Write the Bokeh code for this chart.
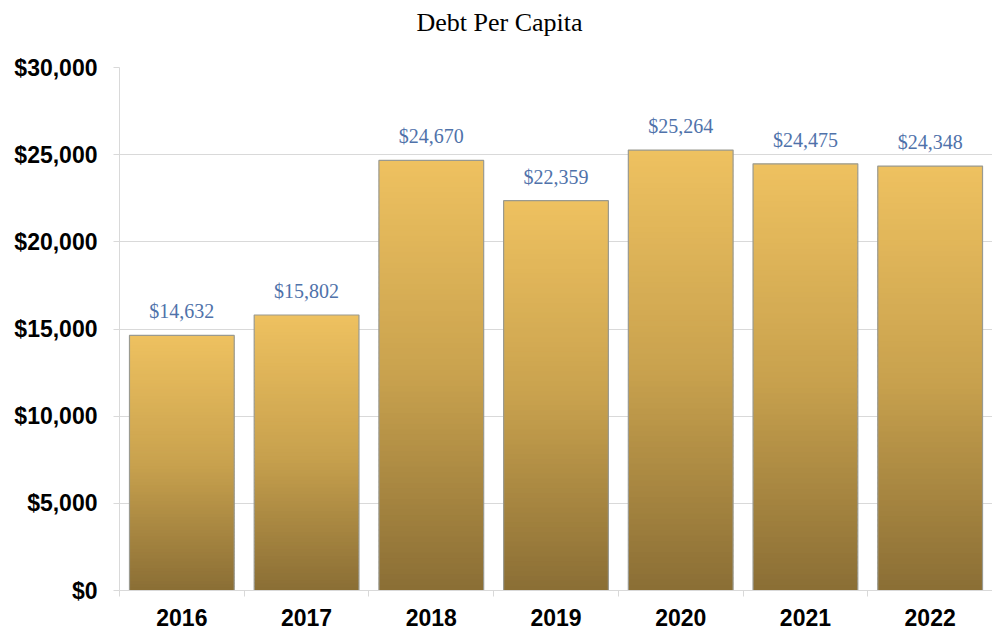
from bokeh.plotting import figure
from bokeh.models import FixedTicker, NumeralTickFormatter, Range1d, ColumnDataSource, Title
from bokeh.embed import file_html
from bokeh.resources import INLINE

years = ["2016", "2017", "2018", "2019", "2020", "2021", "2022"]
debt = [14632, 15802, 24670, 22359, 25264, 24475, 24348]
labels = ["$14,632", "$15,802", "$24,670", "$22,359", "$25,264", "$24,475", "$24,348"]
title_text = "Debt Per Capita"

# gradient stops (fraction of bar height -> rgb)
stops = [(0.0, (138, 110, 53)), (0.5, (201, 162, 78)), (1.0, (238, 193, 96))]

def grad(t):
    for (t0, c0), (t1, c1) in zip(stops[:-1], stops[1:]):
        if t0 <= t <= t1:
            f = (t - t0) / (t1 - t0)
            return "#%02x%02x%02x" % tuple(int(round(a + (b - a) * f)) for a, b in zip(c0, c1))
    return "#%02x%02x%02x" % stops[-1][1]

N = 80
xs, bots, tops, cols = [], [], [], []
for i, v in enumerate(debt):
    for j in range(N):
        xs.append(i)
        bots.append(v * j / N)
        tops.append(min(v, v * (j + 1) / N + v * 0.006))
        cols.append(grad((j + 0.5) / N))

p = figure(width=992, height=630, output_backend="svg", toolbar_location=None,
           x_range=Range1d(-0.5, len(years) - 0.5), y_range=Range1d(0, 30000),
           min_border_left=119, min_border_right=0, min_border_top=67, min_border_bottom=40)
p.outline_line_color = None
p.background_fill_color = "white"

p.title = Title(text=title_text, align="left", vertical_align="top", text_font="Liberation Serif",
                text_font_size="26px", text_font_style="normal", text_color="#000000",
                offset=297, standoff=14)
# spacer between title and plot area
p.add_layout(Title(text=" ", text_font_size="1px", standoff=19), "above")

strips = ColumnDataSource(dict(x=xs, bottom=bots, top=tops, color=cols))
p.vbar(x="x", bottom="bottom", top="top", width=0.84, fill_color="color", line_color=None, source=strips)

src = ColumnDataSource(dict(x=list(range(len(years))), top=debt, label=labels))
p.vbar(x="x", bottom=0, top="top", width=0.84, fill_color=None, line_color="#9a9a90", line_width=1.2, source=src)
p.text(x="x", y="top", text="label", source=src, text_align="center", text_baseline="bottom",
       y_offset=-13, text_font_size="20px", text_color="#4f72aa", text_font={"value": "Liberation Serif"})

p.xgrid.grid_line_color = None
p.ygrid.grid_line_color = "#d9d9d9"
p.ygrid.grid_line_width = 1

p.yaxis.ticker = FixedTicker(ticks=[0, 5000, 10000, 15000, 20000, 25000, 30000])
p.yaxis.formatter = NumeralTickFormatter(format="$0,0")
p.yaxis.axis_line_color = "#d9d9d9"
p.yaxis.major_tick_line_color = "#d9d9d9"
p.yaxis.major_tick_out = 6
p.yaxis.major_tick_in = 0
p.yaxis.minor_tick_line_color = None
p.yaxis.major_label_text_font = "Liberation Sans"
p.yaxis.major_label_text_font_style = "bold"
p.yaxis.major_label_text_font_size = "23px"
p.yaxis.major_label_text_color = "#000000"
p.yaxis.major_label_standoff = 16

p.xaxis.ticker = FixedTicker(ticks=list(range(len(years))),
                             minor_ticks=[i - 0.5 for i in range(len(years) + 1)])
p.xaxis.major_label_overrides = {i: y for i, y in enumerate(years)}
p.xaxis.axis_line_color = "#d9d9d9"
p.xaxis.major_tick_line_color = None
p.xaxis.minor_tick_line_color = "#d9d9d9"
p.xaxis.minor_tick_out = 6
p.xaxis.minor_tick_in = 0
p.xaxis.major_label_text_font = "Liberation Sans"
p.xaxis.major_label_text_font_style = "bold"
p.xaxis.major_label_text_font_size = "23px"
p.xaxis.major_label_text_color = "#000000"
p.xaxis.major_label_standoff = 12

open("out.html", "w").write(file_html(p, INLINE))
